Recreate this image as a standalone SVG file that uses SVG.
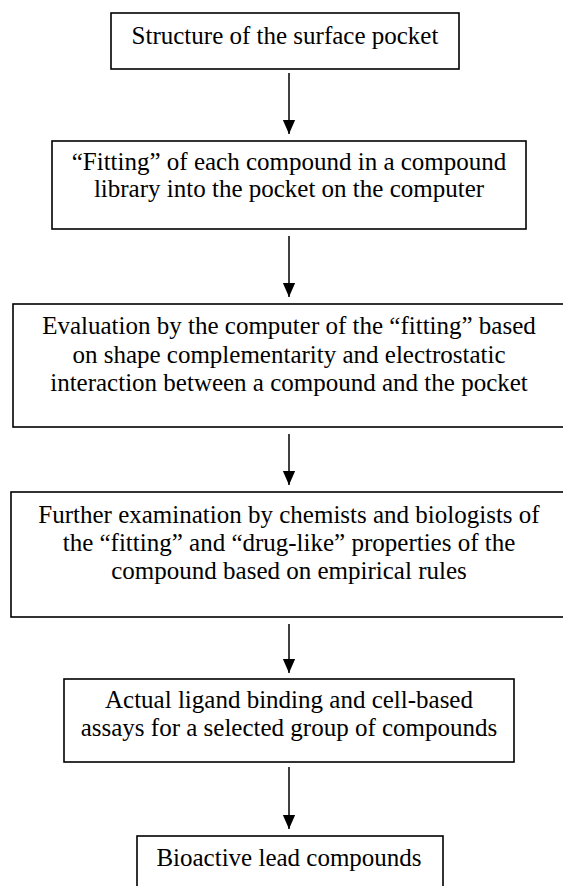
<svg xmlns="http://www.w3.org/2000/svg" width="563" height="886" viewBox="0 0 563 886">
<style>
.box{fill:#fff;stroke:#000;stroke-width:1.6}
text{font-family:"Liberation Serif","Times New Roman",serif;font-size:25px;fill:#000;text-anchor:middle}
.c{stroke:#000;stroke-width:1.5;fill:none}
</style>
<defs>
<marker id="ah" markerWidth="14" markerHeight="14" refX="16" refY="7" orient="auto" markerUnits="userSpaceOnUse" viewBox="0 0 16 14">
<path d="M0,0 L16,7 L0,14 Z" fill="#000"/>
</marker>
</defs>
<rect width="563" height="886" fill="#fff"/>
<g id="connectors">
<line class="c" x1="289" y1="73" x2="289" y2="134" marker-end="url(#ah)"/>
<line class="c" x1="289" y1="236" x2="289" y2="297" marker-end="url(#ah)"/>
<line class="c" x1="289" y1="434" x2="289" y2="485" marker-end="url(#ah)"/>
<line class="c" x1="289" y1="624" x2="289" y2="673" marker-end="url(#ah)"/>
<line class="c" x1="289" y1="767" x2="289" y2="829" marker-end="url(#ah)"/>
</g>
<g id="n1">
<rect class="box" x="111" y="13" width="348" height="56"/>
<text x="285" y="44">Structure of the surface pocket</text>
</g>
<g id="n2">
<rect class="box" x="52" y="141" width="474" height="88"/>
<text x="289" y="170">“Fitting” of each compound in a compound</text>
<text x="289" y="197">library into the pocket on the computer</text>
</g>
<g id="n3">
<rect class="box" x="13" y="304" width="553" height="123"/>
<text x="289" y="334">Evaluation by the computer of the “fitting” based</text>
<text x="289" y="363">on shape complementarity and electrostatic</text>
<text x="289" y="391">interaction between a compound and the pocket</text>
</g>
<g id="n4">
<rect class="box" x="11" y="492" width="556" height="125"/>
<text x="289" y="523">Further examination by chemists and biologists of</text>
<text x="289" y="551">the “fitting” and “drug-like” properties of the</text>
<text x="289" y="579">compound based on empirical rules</text>
</g>
<g id="n5">
<rect class="box" x="64" y="679" width="450" height="83"/>
<text x="289" y="708">Actual ligand binding and cell-based</text>
<text x="289" y="736">assays for a selected group of compounds</text>
</g>
<g id="n6">
<rect class="box" x="137" y="836" width="306" height="70"/>
<text x="289" y="866">Bioactive lead compounds</text>
</g>
</svg>
